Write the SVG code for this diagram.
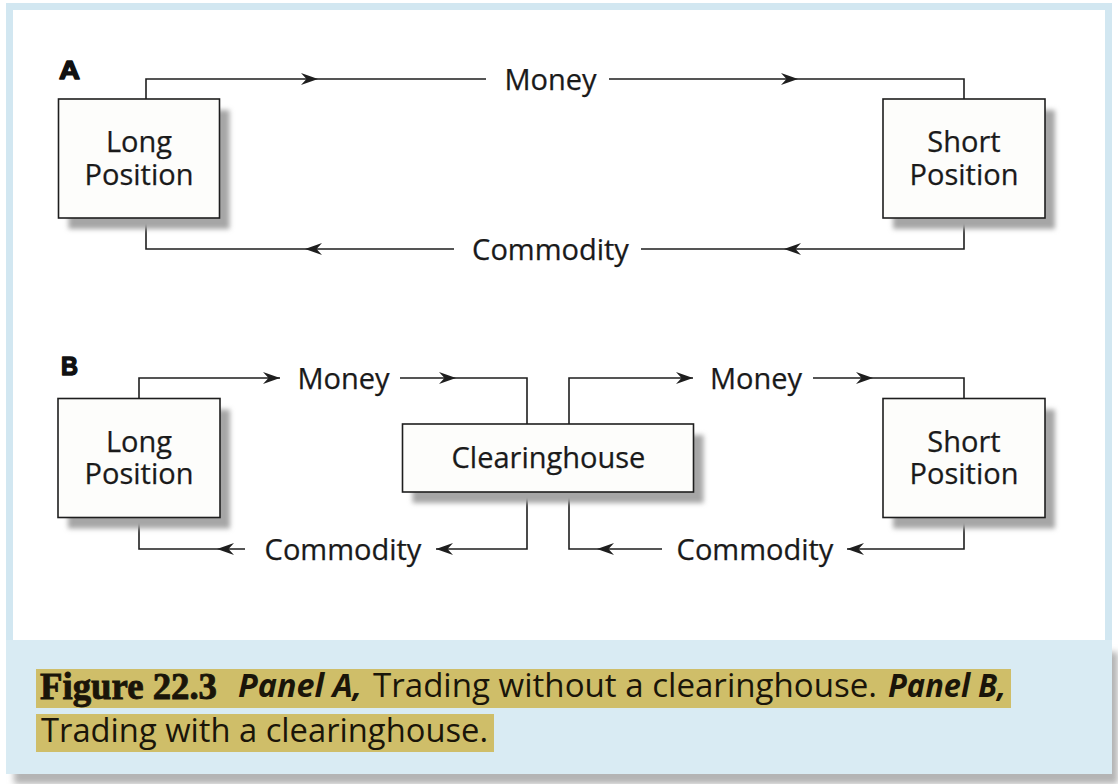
<svg xmlns="http://www.w3.org/2000/svg" xmlns:xlink="http://www.w3.org/1999/xlink" width="1118" height="784" viewBox="0 0 1118 784">
  <style>
    .box { fill: #fdfdfb; stroke: #1e1e1e; stroke-width: 1.6; }
    .lbl { font-family: "Open Sans", "Noto Sans", "Liberation Sans", sans-serif; font-size: 29px; fill: #1a1a1a; stroke: #1a1a1a; stroke-width: 0.25; text-anchor: middle; }
    .panel { font-family: "Liberation Sans", Arial, sans-serif; font-size: 25px; font-weight: 700; fill: #111; stroke: #111; stroke-width: 1.4; stroke-linejoin: round; }
    .conn { fill: none; stroke: #1e1e1e; stroke-width: 1.6; }
    .cap { font-family: "Open Sans", "Noto Sans", "Liberation Sans", sans-serif; font-size: 32px; fill: #1a1509; }
    .capb { font-weight: 700; font-style: italic; }
    .fig { font-family: "Liberation Serif", "Times New Roman", serif; font-size: 38px; font-weight: 700; fill: #1a1509; stroke: #1a1509; stroke-width: 0.9; }
    .hl { fill: #cfbe69; }
  </style>
  <defs>
    <filter id="sh" x="-20%" y="-20%" width="150%" height="150%">
      <feGaussianBlur stdDeviation="2.5"/>
    </filter>
    <filter id="fsh" x="-5%" y="-20%" width="110%" height="150%">
      <feGaussianBlur stdDeviation="3"/>
    </filter>
    <path id="ah" d="M0,0 L-17,-6 L-11.5,0 L-17,6 Z" fill="#1e1e1e"/>
  </defs>

  <!-- frame -->
  <g id="frame">
    <rect x="0" y="0" width="1118" height="784" fill="#ffffff"/>
    <rect x="14" y="652" width="1104" height="132" fill="#b4b4b4" filter="url(#fsh)"/>
    <rect x="6" y="3" width="1106" height="771" fill="#d2e7f1"/>
    <rect x="13" y="10" width="1092" height="630" fill="#ffffff"/>
    <rect x="6" y="640" width="1106" height="134" fill="#d9ebf3"/>
  </g>

  <!-- panel labels -->
  <text class="panel" x="59" y="79" textLength="21" lengthAdjust="spacingAndGlyphs">A</text>
  <text class="panel" x="61" y="375" textLength="17" lengthAdjust="spacingAndGlyphs">B</text>

  <!-- connectors -->
  <g id="connectors">
    <path class="conn" d="M146,99 V79 H486 M609,79 H964 V99"/>
    <path class="conn" d="M146,218 V249 H454 M641,249 H964 V218"/>
    <path class="conn" d="M139,398.5 V378 H280 M400,378 H527 V424 M569,424 V378 H693 M813,378 H964 V398.5"/>
    <path class="conn" d="M139,517.5 V549 H245 M436,549 H527 V492 M569,492 V549 H662 M847,549 H964 V517.5"/>
    <use xlink:href="#ah" href="#ah" transform="translate(318,79)"/>
    <use xlink:href="#ah" href="#ah" transform="translate(798,79)"/>
    <use xlink:href="#ah" href="#ah" transform="translate(305,249) rotate(180)"/>
    <use xlink:href="#ah" href="#ah" transform="translate(784,249) rotate(180)"/>
    <use xlink:href="#ah" href="#ah" transform="translate(280,378)"/>
    <use xlink:href="#ah" href="#ah" transform="translate(456,378)"/>
    <use xlink:href="#ah" href="#ah" transform="translate(693,378)"/>
    <use xlink:href="#ah" href="#ah" transform="translate(873,378)"/>
    <use xlink:href="#ah" href="#ah" transform="translate(217,549) rotate(180)"/>
    <use xlink:href="#ah" href="#ah" transform="translate(436,549) rotate(180)"/>
    <use xlink:href="#ah" href="#ah" transform="translate(597,549) rotate(180)"/>
    <use xlink:href="#ah" href="#ah" transform="translate(847,549) rotate(180)"/>
    <text class="lbl" x="550.5" y="89.5">Money</text>
    <text class="lbl" x="550.5" y="259.5">Commodity</text>
    <text class="lbl" x="343.5" y="388.5">Money</text>
    <text class="lbl" x="756" y="388.5">Money</text>
    <text class="lbl" x="343" y="559.5">Commodity</text>
    <text class="lbl" x="755" y="559.5">Commodity</text>
  </g>

  <!-- nodes -->
  <g id="longA">
    <rect x="68.5" y="110" width="161" height="119" fill="#a6a6a6" filter="url(#sh)"/>
    <rect class="box" x="58.5" y="99" width="161" height="119"/>
    <text class="lbl" x="139" y="152">Long</text>
    <text class="lbl" x="139" y="185">Position</text>
  </g>
  <g id="shortA">
    <rect x="893" y="110" width="162" height="119" fill="#a6a6a6" filter="url(#sh)"/>
    <rect class="box" x="883" y="99" width="162" height="119"/>
    <text class="lbl" x="964" y="152">Short</text>
    <text class="lbl" x="964" y="185">Position</text>
  </g>
  <g id="longB">
    <rect x="68" y="409.5" width="162" height="119" fill="#a6a6a6" filter="url(#sh)"/>
    <rect class="box" x="58" y="398.5" width="162" height="119"/>
    <text class="lbl" x="139" y="451.5">Long</text>
    <text class="lbl" x="139" y="484">Position</text>
  </g>
  <g id="clearinghouse">
    <rect x="412.5" y="435" width="291" height="68" fill="#a6a6a6" filter="url(#sh)"/>
    <rect class="box" x="402.5" y="424" width="291" height="68"/>
    <text class="lbl" x="548.5" y="467.5">Clearinghouse</text>
  </g>
  <g id="shortB">
    <rect x="893" y="409.5" width="162" height="119" fill="#a6a6a6" filter="url(#sh)"/>
    <rect class="box" x="883" y="398.5" width="162" height="119"/>
    <text class="lbl" x="964" y="451.5">Short</text>
    <text class="lbl" x="964" y="484">Position</text>
  </g>

  <!-- caption -->
  <g id="caption">
    <rect class="hl" x="36" y="669" width="975" height="39"/>
    <rect class="hl" x="36" y="714" width="458" height="38"/>
    <text class="fig" x="40" y="699" textLength="177" lengthAdjust="spacingAndGlyphs">Figure 22.3</text>
    <text class="cap capb" x="238" y="697" textLength="124" lengthAdjust="spacingAndGlyphs">Panel A,</text>
    <text class="cap" x="373" y="697" textLength="504" lengthAdjust="spacingAndGlyphs">Trading without a clearinghouse.</text>
    <text class="cap capb" x="888" y="697" textLength="118" lengthAdjust="spacingAndGlyphs">Panel B,</text>
    <text class="cap" x="41" y="742" textLength="447" lengthAdjust="spacingAndGlyphs">Trading with a clearinghouse.</text>
  </g>
</svg>
